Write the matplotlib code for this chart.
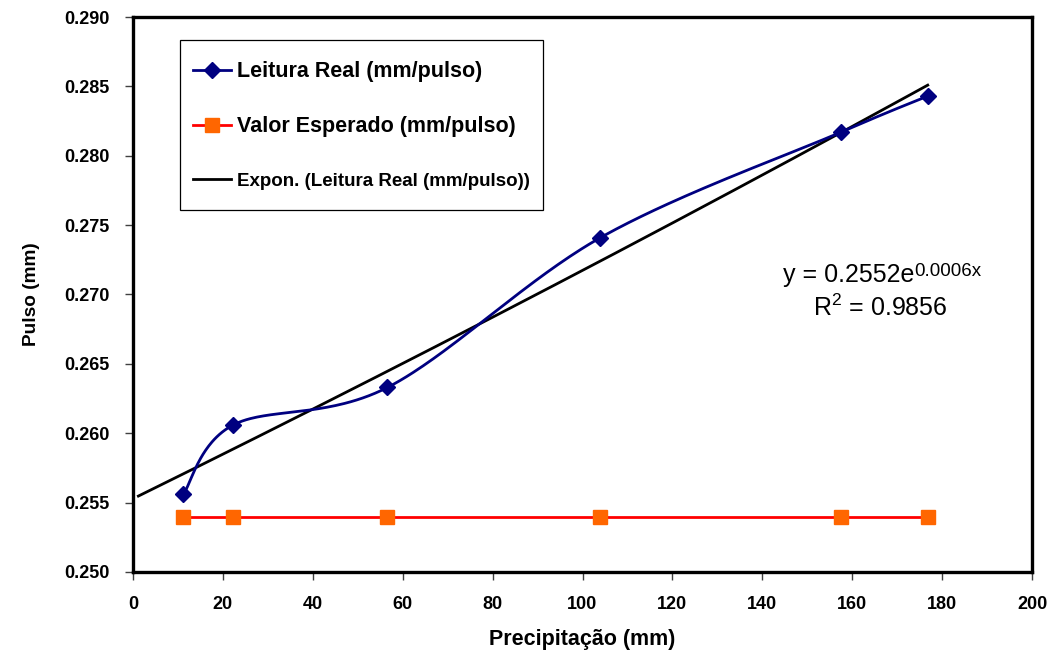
import numpy as np
import matplotlib
matplotlib.use("Agg")
import matplotlib.pyplot as plt
from matplotlib.lines import Line2D
from matplotlib.legend_handler import HandlerLine2D

plt.rcParams['font.family'] = ['Liberation Sans', 'DejaVu Sans']
plt.rcParams['mathtext.fontset'] = 'custom'
plt.rcParams['mathtext.rm'] = 'Liberation Sans'
plt.rcParams['mathtext.it'] = 'Liberation Sans'

# Data
precip = [11.2, 22.3, 56.6, 104.0, 157.5, 176.8]
leitura = [0.2556, 0.2606, 0.2633, 0.2741, 0.2817, 0.2843]
esperado = [0.254, 0.254, 0.254, 0.254, 0.254, 0.254]
x_ticks = [0, 20, 40, 60, 80, 100, 120, 140, 160, 180, 200]
y_ticks = [0.250, 0.255, 0.260, 0.265, 0.270, 0.275, 0.280, 0.285, 0.290]
eq_main = "y = 0.2552e"
eq_exp = "0.0006x"
r2_text = r"R$^{2}$ = 0.9856"
backward_forecast = 10


class ShiftedHandler(HandlerLine2D):
    def create_artists(self, legend, orig_handle, xdescent, ydescent,
                       width, height, fontsize, trans):
        return super().create_artists(legend, orig_handle, xdescent,
                                      ydescent + 7.0, width, height,
                                      fontsize, trans)


fig = plt.figure(figsize=(10.52, 6.53), dpi=100)
ax = fig.add_axes([133/1052, 1-572/653, (1032-133)/1052, (572-17)/653])

# smoothed line (Excel-like Bezier smoothing)
xs = np.array(precip); ys = np.array(leitura)
sx = 1/200.0; sy = 1/0.04
P = np.column_stack([xs*sx, ys*sy])
n = len(P)
curve = []
for i in range(n-1):
    p0 = P[i-1] if i > 0 else P[i]
    p1 = P[i]; p2 = P[i+1]
    p3 = P[i+2] if i+2 < n else P[i+1]
    c1 = p1 + (p2 - p0)/6
    c2 = p2 - (p3 - p1)/6
    t = np.linspace(0, 1, 60)[:, None]
    c = ((1-t)**3)*p1 + 3*((1-t)**2)*t*c1 + 3*(1-t)*t**2*c2 + t**3*p2
    curve.append(c)
curve = np.vstack(curve)
ax.plot(curve[:, 0]/sx, curve[:, 1]/sy, color='#000080', lw=2.0, zorder=3)
ax.plot(precip, leitura, linestyle='none', marker='D', color='#000080', ms=8.5, zorder=4)
h1, = ax.plot([], [], color='#000080', lw=2.0, marker='D', ms=8.5)

# expected
h2, = ax.plot(precip, esperado, color='#FF0000', lw=2.0, marker='s', ms=9.5,
              markerfacecolor='#FF6600', markeredgecolor='#FF6600', zorder=3)

# exponential trendline
b, lna = np.polyfit(xs, np.log(ys), 1)
xt = np.linspace(xs.min()-backward_forecast, xs.max(), 200)
h3, = ax.plot(xt, np.exp(lna)*np.exp(b*xt), color='black', lw=2.0, zorder=2)

ax.set_xlim(0, 200)
ax.set_ylim(0.250, 0.290)
ax.set_xticks(x_ticks)
ax.set_yticks(y_ticks)
ax.set_xticklabels([str(v) for v in x_ticks], fontsize=13, fontweight='bold')
ax.set_yticklabels([f"{v:.3f}" for v in y_ticks], fontsize=13, fontweight='bold')
ax.tick_params(axis='y', direction='out', length=6, width=1, color='#404040', pad=11)
ax.tick_params(axis='x', direction='out', length=6, width=1, color='#404040', pad=11)
for s in ax.spines.values():
    s.set_linewidth(2.4)
    s.set_color('black')

ax.set_xlabel("Precipitação (mm)", fontsize=15.5, fontweight='bold', labelpad=12)
ax.set_ylabel("Pulso (mm)", fontsize=13.7, fontweight='bold', labelpad=17)

leg = ax.legend([h1, h2, h3],
                ["Leitura Real (mm/pulso)", "Valor Esperado (mm/pulso)",
                 "Expon. (Leitura Real (mm/pulso))"],
                loc='upper left', bbox_to_anchor=((180-133)/899, (572-40)/555),
                borderaxespad=0, fancybox=False, edgecolor='black',
                framealpha=1, handlelength=1.75, handletextpad=0.3,
                handleheight=2.15, labelspacing=0.89, borderpad=0.6,
                handler_map={Line2D: ShiftedHandler()},
                prop={'weight': 'bold', 'size': 15.5})
leg.get_frame().set_linewidth(0.9)
leg.get_texts()[2].set_fontsize(13.5)

t1 = ax.text(144.5, 0.27092, eq_main, fontsize=18, ha='left', va='baseline')
ax.annotate(eq_exp, xy=(1.0, 0.0), xycoords=t1, xytext=(0.5, 8),
            textcoords='offset points', fontsize=13.5, ha='left', va='baseline')
ax.text(151.3, 0.26847, r2_text, fontsize=18, ha='left', va='baseline')

fig.savefig("out.png", dpi=100)
